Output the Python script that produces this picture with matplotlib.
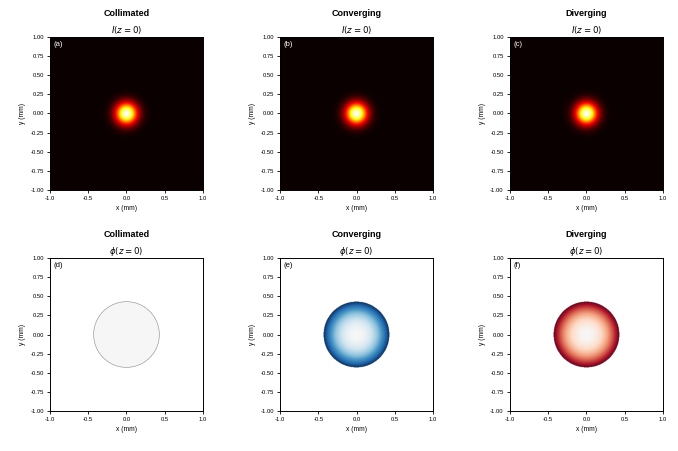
import numpy as np
import matplotlib
matplotlib.use("Agg")
import matplotlib.pyplot as plt

plt.rcParams['font.family'] = ['Liberation Sans', 'DejaVu Sans']
plt.rcParams['mathtext.fontset'] = 'dejavusans'

# beam parameters
cases = ["Collimated", "Converging", "Diverging"]
waist_mm = 0.2          # gaussian 1/e^2 radius of the intensity spot
aperture_mm = 0.43      # radius of the phase aperture
phase_curv = [0.0, 1.0, -1.0]   # sign / strength of the quadratic phase
labels_top = ["(a)", "(b)", "(c)"]
labels_bot = ["(d)", "(e)", "(f)"]
ticks = [-1.0, -0.5, 0.0, 0.5, 1.0]
yticks = [-1.0, -0.75, -0.5, -0.25, 0.0, 0.25, 0.5, 0.75, 1.0]

n = 400
x = np.linspace(-1, 1, n)
X, Y = np.meshgrid(x, x)
R2 = X**2 + Y**2
intensity = np.exp(-2 * R2 / waist_mm**2)
mask = R2 <= aperture_mm**2
rmax2 = aperture_mm**2

fig = plt.figure(figsize=(6.78, 4.51), dpi=100)
lefts = [0.0737, 0.413, 0.752]
w = 0.2257
rows = [0.579, 0.0887]
h = 0.339

for c in range(3):
    for r in range(2):
        ax = fig.add_axes([lefts[c], rows[r], w, h])
        if r == 0:
            ax.imshow(intensity, cmap="hot", origin="lower", extent=[-1, 1, -1, 1],
                      vmin=0, vmax=1)
            sub = "$I(z=0)$"
            lab = labels_top[c]
            lcol = "white"
        else:
            phi = phase_curv[c] * R2 / rmax2
            phi = np.where(mask, phi, np.nan)
            ax.imshow(phi, cmap="RdBu", origin="lower", extent=[-1, 1, -1, 1],
                      vmin=-1.0, vmax=1.0)
            if c == 0:
                th = np.linspace(0, 2 * np.pi, 300)
                ax.plot(aperture_mm * np.cos(th), aperture_mm * np.sin(th),
                        color="0.72", lw=0.4)
            sub = r"$\phi(z=0)$"
            lab = labels_bot[c]
            lcol = "black"
        ax.set_xlim(-1, 1)
        ax.set_ylim(-1, 1)
        ax.set_xticks(ticks)
        ax.set_yticks(yticks)
        ax.set_xticklabels(["%.1f" % t for t in ticks])
        ax.set_yticklabels(["%.2f" % t for t in yticks])
        ax.tick_params(labelsize=4.2, length=2.5, width=0.6, pad=2)
        for s in ax.spines.values():
            s.set_linewidth(0.7)
        ax.set_xlabel("x (mm)", fontsize=4.8, labelpad=3)
        ax.set_ylabel("y (mm)", fontsize=4.8, labelpad=3)
        ax.set_title(sub, fontsize=6.2, pad=3)
        ax.text(0.5, 1.125, cases[c], transform=ax.transAxes, ha="center",
                va="bottom", fontsize=6.5, fontweight="bold")
        ax.text(0.025, 0.975, lab, transform=ax.transAxes, ha="left", va="top",
                fontsize=5.5, color=lcol)

fig.savefig("out.png", dpi=100)
